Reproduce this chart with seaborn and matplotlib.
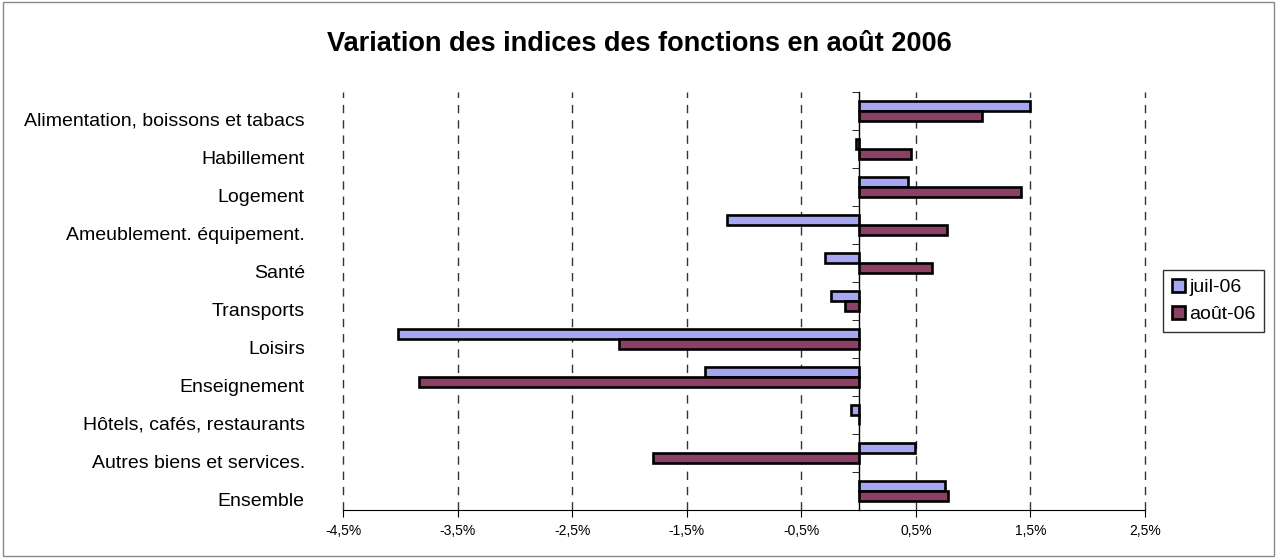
import numpy as np
import pandas as pd
import seaborn as sns
import matplotlib.pyplot as plt
import matplotlib.transforms as mtransforms
from matplotlib.patches import Rectangle

# data (% change)
categories = ["Alimentation, boissons et tabacs", "Habillement", "Logement",
              "Ameublement. équipement.", "Santé", "Transports", "Loisirs",
              "Enseignement", "Hôtels, cafés, restaurants",
              "Autres biens et services.", "Ensemble"]
juil_06 = [1.50, -0.02, 0.43, -1.15, -0.29, -0.24, -4.02, -1.34, -0.07, 0.49, 0.75]
aout_06 = [1.08, 0.46, 1.42, 0.77, 0.64, -0.12, -2.09, -3.84, 0.00, -1.79, 0.78]
series_names = ["juil-06", "août-06"]
x_ticks = [-4.5, -3.5, -2.5, -1.5, -0.5, 0.5, 1.5, 2.5]

df = pd.DataFrame({
    "Fonction": categories * 2,
    "Variation": juil_06 + aout_06,
    "Mois": [series_names[0]] * len(categories) + [series_names[1]] * len(categories),
})

sns.set_style("white")
plt.rcParams["font.family"] = ["Liberation Sans", "DejaVu Sans"]
plt.rcParams["text.color"] = "black"
plt.rcParams["xtick.color"] = "black"
plt.rcParams["ytick.color"] = "black"

fig = plt.figure(figsize=(12.78, 5.58), dpi=100)
ax = fig.add_axes([343 / 1278, 1 - 510 / 558, (1145 - 343) / 1278, (510 - 92) / 558])

sns.barplot(data=df, x="Variation", y="Fonction", hue="Mois", order=categories,
            hue_order=series_names, palette=["#9999FF", "#993366"], orient="h",
            width=0.55, edgecolor="black", linewidth=1.9, ax=ax)

ax.set_xlim(x_ticks[0], x_ticks[-1])
ax.set_ylim(len(categories) - 0.5, -0.5)
ax.set_xticks(x_ticks)
ax.set_xticklabels([f"{t:.1f}%".replace(".", ",") for t in x_ticks], fontsize=10)
ax.grid(axis="x", color="#333333", linestyle=(0, (6, 5)), linewidth=1.0)
for gl in ax.get_xgridlines():
    gl.set_clip_on(False)
ax.set_axisbelow(True)
ax.set_xlabel("")
ax.set_ylabel("")

# spines: bottom axis, category axis crossing at zero
for side in ["top", "left"]:
    ax.spines[side].set_visible(False)
ax.spines["bottom"].set_color("black")
ax.spines["right"].set_position(("data", 0))
ax.spines["right"].set_color("black")
ax.spines["right"].set_linewidth(1.0)

ax.tick_params(axis="x", which="major", bottom=True, direction="out", length=5,
               color="black", labelcolor="black", pad=5)
ax.set_yticks(np.arange(-0.5, len(categories), 1.0), minor=True)
ax.tick_params(axis="y", which="major", left=False, right=False, labelleft=True,
               labelsize=14, labelcolor="black", pad=24)
ax.tick_params(axis="y", which="minor", left=False, right=True, direction="in",
               length=5, color="black")

offset = mtransforms.ScaledTranslation(0, -6 / 72, fig.dpi_scale_trans)
for lbl in ax.get_yticklabels():
    lbl.set_transform(lbl.get_transform() + offset)

leg = ax.legend(loc="center left", bbox_to_anchor=(1163 / 1278, 1 - 301 / 558),
                bbox_transform=fig.transFigure, frameon=True, fancybox=False,
                fontsize=14, handlelength=0.7, handleheight=0.7,
                handletextpad=0.2, borderpad=0.45, labelspacing=0.5,
                borderaxespad=0)
leg.get_frame().set_edgecolor("black")
leg.get_frame().set_linewidth(1.0)
for h in leg.legend_handles:
    h.set_edgecolor("black")
    h.set_linewidth(1.9)
for t in leg.get_texts():
    t.set_color("black")

fig.suptitle("Variation des indices des fonctions en août 2006", x=0.5,
             y=1 - 44 / 558, va="center", fontsize=19.5, fontweight="bold",
             color="black")

fig.patches.append(Rectangle((0.002, 0.003), 0.995, 0.994, transform=fig.transFigure,
                             fill=False, edgecolor="#888888", linewidth=1.0))

fig.savefig("out.png", dpi=100)
